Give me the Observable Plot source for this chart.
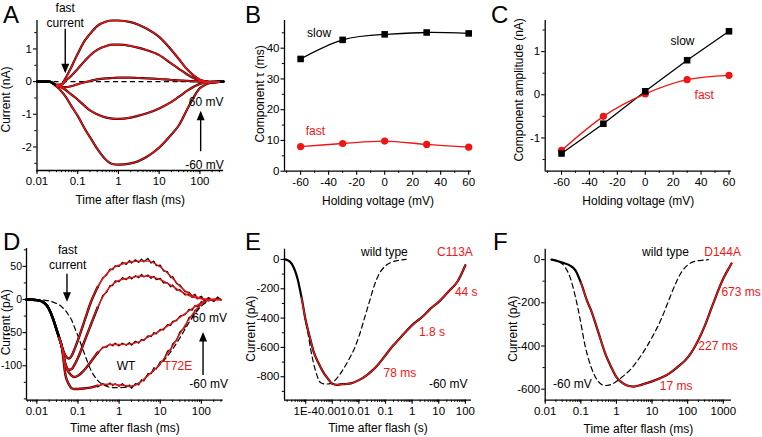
<!DOCTYPE html>
<html><head><meta charset="utf-8">
<script src="https://cdn.jsdelivr.net/npm/d3@7"></script>
<script src="https://cdn.jsdelivr.net/npm/@observablehq/plot@0.6"></script>
<style>
body{margin:0;background:#fff;font-family:"Liberation Sans",Arial,sans-serif;}
#fig{position:relative;width:762px;height:437px;overflow:hidden;background:#fff;}
.cell{position:absolute;}
.letter{position:absolute;font-size:24px;line-height:1;color:#000;z-index:5;font-family:"Liberation Sans",Arial,sans-serif;}
</style></head><body><div id="fig"></div>
<script>
const RED = "#f01414";
// ---------- Panel A ----------
const aTime = [0.01,0.02,0.03,0.04,0.05,0.07,0.1,0.15,0.2,0.3,0.5,0.7,1,2,3,5,10,20,30,50,100,150,200,300,380];
const aPos60 = [0,0,-0.1,-0.08,0.1,0.45,0.85,1.26,1.46,1.7,1.84,1.87,1.87,1.82,1.75,1.62,1.37,0.97,0.7,0.36,0.06,0.0,-0.03,-0.01,0];
const aPos30 = [0,0,-0.1,-0.1,0.02,0.18,0.39,0.64,0.8,0.97,1.09,1.13,1.13,1.09,1.04,0.96,0.81,0.55,0.4,0.21,0.03,-0.01,-0.02,0,0];
const aZero  = [0,0,-0.12,-0.16,-0.17,-0.14,-0.08,-0.02,0.02,0.07,0.1,0.11,0.12,0.12,0.11,0.1,0.08,0.05,0.04,0.02,0,0,0,0,0];
const aNeg30 = [0,0,-0.12,-0.18,-0.25,-0.4,-0.55,-0.75,-0.88,-1.0,-1.1,-1.13,-1.14,-1.1,-1.05,-0.97,-0.82,-0.62,-0.47,-0.27,-0.07,-0.02,-0.01,0,0];
const aNeg60 = [0,0,-0.15,-0.3,-0.45,-0.75,-1.05,-1.45,-1.7,-2.05,-2.4,-2.52,-2.54,-2.5,-2.44,-2.3,-2.02,-1.62,-1.35,-0.82,-0.2,-0.07,-0.03,-0.01,0];
const aXDomain = [0.01, 380], aYDomain = [-2.72, 1.87];
const aXTicks = [0.01,0.1,1,10,100], aXLabels = ["0.01","0.1","1","10","100"];
const aYTicks = [-2,-1,0,1], aYLabels = ["-2","-1","0","1"];
const aYMinor = [-2.5,-1.5,-0.5,0.5,1.5];
const aNotes = [{t:0.0494,v:2.04,text:"fast\ncurrent"},{t:142,v:-0.6,text:"60 mV"},{t:130,v:-2.52,text:"-60 mV"}];
const aArrows = [{t:0.0494,y1:1.62,y2:0.32,tip:0.254,dir:"down"},{t:104.5,y1:-2.13,y2:-0.95,tip:-0.89,dir:"up"}];

// ---------- Panel B ----------
const bVolt = [-60,-30,0,30,60];
const bSlow = [36.5,42.7,44.5,45.1,44.8];
const bFast = [8.0,9.0,9.8,8.7,7.8];
const bXDomain = [-71.5, 62], bYDomain = [0, 49];
const bXTicks = [-60,-40,-20,0,20,40,60], bXLabels = ["-60","-40","-20","0","20","40","60"];
const bXMinor = [-70,-50,-30,-10,10,30,50];
const bYTicks = [0,10,20,30,40], bYLabels = ["0","10","20","30","40"];
const bYMinor = [5,15,25,35,45];
const bNotes = [{V:-46.8,v:45.1,text:"slow",c:"black"},{V:-49.4,v:13.4,text:"fast",c:"red"}];

// ---------- Panel C ----------
const cVolt = [-60,-30,0,30,60];
const cSlow = [-1.36,-0.67,0.08,0.80,1.47];
const cFast = [-1.29,-0.50,0.02,0.35,0.45];
const cXDomain = [-71.7, 61.8], cYDomain = [-1.77, 1.72];
const cYTicks = [-1,0,1], cYLabels = ["-1","0","1"];
const cYMinor = [-1.5,-0.5,0.5,1.5];
const cNotes = [{V:26.7,v:1.25,text:"slow",c:"black"},{V:42.3,v:0,text:"fast",c:"red"}];

// ---------- Panel D ----------
const dTime  = [0.0056,0.01,0.015,0.02,0.025,0.03,0.035,0.04,0.05,0.06,0.07,0.08,0.1,0.15,0.2,0.3,0.5,0.7,1,2,3,5,10,20,30,50,100,150,200,300];
const dPos60 = [0,-1,-5,-15,-30,-45,-58,-70,-85,-89,-85,-77,-61,-29,-6,19,39,47,52,57,58,58,49,32,20,9,2,0,0,0];
const dPos30 = [0,-1,-5,-15,-30,-45,-58,-70,-98,-106,-105,-100,-88,-60,-40,-12,13,23,29,33,35,35,30,20,13,6,1,0,0,0];
const dNeg30 = [0,-1,-5,-15,-30,-45,-58,-70,-100,-110,-115,-117,-115,-105,-95,-80,-70,-68,-68,-67,-64,-57,-47,-35,-27,-17,-5,-1,0,0];
const dNeg60 = [0,-1,-5,-15,-30,-45,-58,-70,-115,-128,-134,-135,-135,-134,-133,-130,-128,-128,-129,-131,-127,-115,-97,-70,-52,-30,-7,-1,0,0];
const dWt    = [0,0,-1,-2,-4,-6,-8,-11,-17,-24,-31,-40,-55,-85,-105,-122,-131,-133,-133,-131,-126,-115,-98,-75,-58,-35,-10,-2,0,null];
// raw (noisy) recordings
const dRawTime = [0.3,0.4,0.5,0.6,0.7,0.8,1,1.2,1.5,1.8,2,2.5,3,3.5,4,5,6,7,8,10,12,15,18,20,25,30,40,50,60,70,80,100,120,150,200,250,300];
const dRaw60  = [17,33,37,46,45,51,50,56,53,59,55,60,56,61,57,62,55,58,51,52,43,42,33,35,24,22,12,11,5,8,2,5,-2,3,-3,4,-1];
const dRaw30  = [-14,6,11,21,21,28,27,33,30,35,31,36,33,38,34,37,32,35,30,32,25,25,19,22,14,15,7,8,3,6,1,3,-2,2,-2,3,0];
const dRawM30 = [-82,-72,-72,-67,-70,-66,-70,-66,-69,-65,-69,-63,-66,-60,-62,-55,-56,-50,-52,-45,-46,-38,-39,-33,-32,-25,-23,-15,-16,-9,-11,-3,-5,1,-2,2,-1];
const dRawM60 = [-132,-127,-130,-126,-130,-127,-131,-127,-132,-129,-134,-127,-129,-121,-123,-112,-112,-103,-105,-94,-92,-78,-76,-67,-62,-49,-42,-27,-26,-16,-17,-4,-6,1,-2,2,0];
const dXDomain = [0.0056, 340], dYDomain = [-152, 77];
const dYTicks = [-100,-50,0,50], dYLabels = ["-100","-50","0","50"];
const dYMinor = [-150,-125,-75,-25,25,75];
const dNotes = [{t:0.0562,v:64,text:"fast\ncurrent",c:"black"},{t:159,v:-27,text:"60 mV",c:"black"},{t:150,v:-127,text:"-60 mV",c:"black"},{t:1.48,v:-99,text:"WT",c:"black"},{t:27,v:-99,text:"T72E",c:"red"}];
const dArrows = [{t:0.054,y1:39,y2:5,tip:-3.5,dir:"down"},{t:110,y1:-114,y2:-55,tip:-49,dir:"up"}];

// ---------- Panel E ----------
const eTime = [1.6e-5,2e-5,3e-5,5e-5,7e-5,1e-4,1.5e-4,2e-4,3e-4,5e-4,7e-4,1e-3,1.5e-3,2e-3,3e-3,5e-3,0.01,0.02,0.03,0.05,0.1,0.2,0.3,0.5,1,2,3,5,10,20,30,50,100];
const eMut  = [0,-4,-30,-135,-260,-415,-545,-630,-705,-780,-815,-848,-855,-852,-850,-845,-823,-789,-762,-721,-653,-584,-550,-505,-448,-403,-375,-334,-289,-232,-198,-152,-39];
const eWtTime = [8.9e-5,1.19e-4,1.6e-4,2.4e-4,3.7e-4,5.6e-4,8.8e-4,1.39e-3,2.46e-3,4.4e-3,6.8e-3,0.0104,0.0161,0.0248,0.0383,0.059,0.091,0.162,0.288,0.594];
const eWt   = [-380,-493,-629,-766,-841,-850,-845,-816,-755,-675,-607,-516,-402,-288,-175,-95,-50,-20,-7,0];
const eXDomain = [1.6e-5, 170], eYDomain = [-960, 70];
const eXTicks = [1e-4,0.001,0.01,0.1,1,10,100], eXLabels = ["1E-4","0.001","0.01","0.1","1","10","100"];
const eYTicks = [-800,-600,-400,-200,0], eYLabels = ["-800","-600","-400","-200","0"];
const eYMinor = [-900,-700,-500,-300,-100];
const eNotes = [{t:0.091,v:58,text:"wild type",c:"black"},{t:40.6,v:58,text:"C113A",c:"red"},{t:108,v:-217,text:"44 s",c:"red"},{t:5.55,v:-490,text:"1.8 s",c:"red"},{t:0.348,v:-770,text:"78 ms",c:"red"},{t:22.8,v:-846,text:"-60 mV",c:"black"}];

// ---------- Panel F ----------
const fTime = [0.015,0.02,0.03,0.05,0.07,0.1,0.15,0.2,0.3,0.5,0.7,1,1.5,2,3,5,7,10,20,30,50,100,200,300,500,1000,1500,1700];
const fMut  = [0,-5,-14,-28,-49,-106,-191,-241,-329,-441,-495,-544,-572,-583,-588,-580,-572,-564,-544,-528,-500,-454,-372,-308,-211,-88,-34,-18];
const fWtTime = [0.015,0.0232,0.0357,0.0494,0.0683,0.0944,0.13,0.2,0.308,0.475,0.656,0.906,1.39,2.66,5.08,9.7,18.5,28.5,43.9,67.6,104,160,306,380];
const fWt   = [0,-8,-34,-80,-163,-271,-394,-503,-564,-583,-580,-569,-546,-503,-441,-364,-272,-195,-118,-57,-23,-8,-2,0];
const fXDomain = [0.01, 1700], fYDomain = [-651, 48];
const fXTicks = [0.01,0.1,1,10,100,1000], fXLabels = ["0.01","0.1","1","10","100","1000"];
const fYTicks = [-600,-400,-200,0], fYLabels = ["-600","-400","-200","0"];
const fYMinor = [-500,-300,-100];
const fNotes = [{t:23.8,v:38,text:"wild type",c:"black"},{t:956,v:38,text:"D144A",c:"red"},{t:3162,v:-148,text:"673 ms",c:"red"},{t:710,v:-398,text:"227 ms",c:"red"},{t:47.2,v:-582,text:"17 ms",c:"red"},{t:0.058,v:-574,text:"-60 mV",c:"black"}];

const letters = [{s:"A",x:3,y:3},{s:"B",x:245,y:3},{s:"C",x:491,y:3},{s:"D",x:3,y:230},{s:"E",x:245,y:230},{s:"F",x:493,y:230}];

// ---------- helpers ----------
const fig = document.getElementById("fig");
const tidy = (times, series) => series.flatMap(([s, vals]) => times.map((t, i) => ({t, v: vals[i], s})).filter(d => d.v != null));
const col = c => c === "red" ? RED : c;
const headDown = {draw(ctx){ctx.moveTo(0,0);ctx.lineTo(-4,-9.5);ctx.lineTo(4,-9.5);ctx.closePath();}};
const headUp = {draw(ctx){ctx.moveTo(0,0);ctx.lineTo(-4,9.5);ctx.lineTo(4,9.5);ctx.closePath();}};

function axes({xTicks, xLabels, xMinor, yTicks, yLabels, yMinor, xDomain, yDomain, xTitle, yTitle, xTitleDy, yTitleDx, yTitleDy, yFont = 11.5, yPad = 1.5}) {
  return [
    Plot.ruleX([xDomain[0]], {stroke: "black", strokeWidth: 1.3}),
    Plot.ruleY([yDomain[0]], {stroke: "black", strokeWidth: 1.3}),
    Plot.axisX({ticks: xMinor, tickSize: 2.2, tickFormat: () => "", label: null, strokeWidth: 1}),
    Plot.axisX({ticks: xTicks, tickSize: 4, tickPadding: 2.5, tickFormat: d => xLabels[xTicks.indexOf(d)], label: null, strokeWidth: 1.1}),
    Plot.axisY({ticks: yMinor, tickSize: 2.2, tickFormat: () => "", label: null, strokeWidth: 1}),
    Plot.axisY({ticks: yTicks, tickSize: 3.5, tickPadding: yPad, fontSize: yFont, tickFormat: d => yLabels[yTicks.indexOf(d)], label: null, strokeWidth: 1.1}),
    Plot.text([xTitle], {frameAnchor: "bottom", dy: xTitleDy, fontSize: 12, textAnchor: "middle", lineAnchor: "middle"}),
    Plot.text([yTitle], {frameAnchor: "left", dx: yTitleDx, dy: yTitleDy, rotate: -90, fontSize: 12, textAnchor: "middle", lineAnchor: "middle"})
  ];
}

function panel({left, top, w, h, ml, mr, mt, mb, x, y, marks}) {
  const svg = Plot.plot({
    width: w, height: h, marginLeft: ml, marginRight: mr, marginTop: mt, marginBottom: mb,
    x: {...x, axis: null}, y: {...y, axis: null},
    style: {background: "transparent", overflow: "visible", fontFamily: '"Liberation Sans", Arial, sans-serif', fontSize: "11.5px", color: "black"},
    marks
  });
  const div = document.createElement("div");
  div.className = "cell"; div.style.left = left + "px"; div.style.top = top + "px";
  div.appendChild(svg); fig.appendChild(div);
}

function arrowMarks(arr) {
  return [
    Plot.link(arr, {x1: "t", x2: "t", y1: "y1", y2: "y2", stroke: "black", strokeWidth: 1.4}),
    Plot.dot(arr.filter(d => d.dir === "down"), {x: "t", y: "tip", symbol: headDown, r: 5, fill: "black", stroke: "none"}),
    Plot.dot(arr.filter(d => d.dir === "up"), {x: "t", y: "tip", symbol: headUp, r: 5, fill: "black", stroke: "none"})
  ];
}

function notes(arr) {
  return Plot.text(arr, {x: d => d.t ?? d.V, y: "v", text: "text", fill: d => col(d.c ?? "black"), fontSize: 12, lineAnchor: "middle", lineHeight: 1.22});
}

// ---------- A ----------
const aData = tidy(aTime, [["60", aPos60], ["30", aPos30], ["0", aZero], ["-30", aNeg30], ["-60", aNeg60]]);
panel({left: 0, top: 0, w: 254, h: 218, ml: 36.5, mr: 31, mt: 20, mb: 48,
  x: {type: "log", domain: aXDomain}, y: {domain: aYDomain},
  marks: [
    Plot.ruleY([0], {stroke: "black", strokeDasharray: "5,3.5", strokeWidth: 1.2}),
    Plot.line(aData, {x: "t", y: "v", z: "s", stroke: "black", strokeWidth: 2.2, curve: "monotone-x"}),
    Plot.line(aData.filter(d => d.t >= 0.03 && d.t <= 300), {x: "t", y: "v", z: "s", stroke: RED, strokeWidth: 1.4, curve: "monotone-x"}),
    ...axes({xTicks: aXTicks, xLabels: aXLabels, xMinor: 30, yTicks: aYTicks, yLabels: aYLabels, yMinor: aYMinor, xDomain: aXDomain, yDomain: aYDomain,
      xTitle: "Time after flash (ms)", yTitle: "Current (nA)", xTitleDy: 30, yTitleDx: -30.5, yTitleDy: 4}),
    ...arrowMarks(aArrows),
    notes(aNotes.map(d => ({...d, c: "black"})))
  ]});

// ---------- B ----------
const bSlowD = bVolt.map((V, i) => ({V, v: bSlow[i]}));
const bFastD = bVolt.map((V, i) => ({V, v: bFast[i]}));
panel({left: 254, top: 0, w: 254, h: 218, ml: 30, mr: 37, mt: 20, mb: 47.3,
  x: {domain: bXDomain}, y: {domain: bYDomain},
  marks: [
    Plot.line(bSlowD, {x: "V", y: "v", stroke: "black", strokeWidth: 1.3, curve: "natural"}),
    Plot.line(bFastD, {x: "V", y: "v", stroke: RED, strokeWidth: 1.3, curve: "catmull-rom"}),
    Plot.dot(bSlowD, {x: "V", y: "v", symbol: "square", r: 3.7, fill: "black", stroke: "none"}),
    Plot.dot(bFastD, {x: "V", y: "v", symbol: "circle", r: 3.6, fill: RED, stroke: "none"}),
    ...axes({xTicks: bXTicks, xLabels: bXLabels, xMinor: bXMinor, yTicks: bYTicks, yLabels: bYLabels, yMinor: bYMinor, xDomain: bXDomain, yDomain: bYDomain,
      xTitle: "Holding voltage (mV)", yTitle: "Component τ (ms)", xTitleDy: 30, yTitleDx: -24, yTitleDy: -2}),
    notes(bNotes)
  ]});

// ---------- C ----------
const cSlowD = cVolt.map((V, i) => ({V, v: cSlow[i]}));
const cFastD = cVolt.map((V, i) => ({V, v: cFast[i]}));
panel({left: 508, top: 0, w: 254, h: 218, ml: 36.7, mr: 31, mt: 20, mb: 47.3,
  x: {domain: cXDomain}, y: {domain: cYDomain},
  marks: [
    Plot.line(cSlowD, {x: "V", y: "v", stroke: "black", strokeWidth: 1.3}),
    Plot.line(cFastD, {x: "V", y: "v", stroke: RED, strokeWidth: 1.3, curve: "natural"}),
    Plot.dot(cFastD, {x: "V", y: "v", symbol: "circle", r: 3.6, fill: RED, stroke: "none"}),
    Plot.dot(cSlowD, {x: "V", y: "v", symbol: "square", r: 3.7, fill: "black", stroke: "none"}),
    ...axes({xTicks: bXTicks, xLabels: bXLabels, xMinor: bXMinor, yTicks: cYTicks, yLabels: cYLabels, yMinor: cYMinor, xDomain: cXDomain, yDomain: cYDomain,
      xTitle: "Holding voltage (mV)", yTitle: "Component amplitude (nA)", xTitleDy: 30, yTitleDx: -26, yTitleDy: -6}),
    notes(cNotes)
  ]});

// ---------- D ----------
const dData = tidy(dTime, [["60", dPos60], ["30", dPos30], ["-30", dNeg30], ["-60", dNeg60]]);
const dRaw = tidy(dRawTime, [["60", dRaw60], ["30", dRaw30], ["-30", dRawM30], ["-60", dRawM60]]);
const dWtD = tidy(dTime, [["wt", dWt]]);
panel({left: 0, top: 218, w: 254, h: 219, ml: 26, mr: 31.3, mt: 30, mb: 37.3,
  x: {type: "log", domain: dXDomain}, y: {domain: dYDomain},
  marks: [
    Plot.line(dWtD, {x: "t", y: "v", stroke: "black", strokeWidth: 1.2, strokeDasharray: "5,3.5", curve: "monotone-x"}),
    Plot.line(dData.filter(d => d.t <= 0.3), {x: "t", y: "v", z: "s", stroke: "black", strokeWidth: 2.4, curve: "monotone-x"}),
    Plot.line(dRaw, {x: "t", y: "v", z: "s", stroke: "black", strokeWidth: 1.2}),
    Plot.line(dData.filter(d => d.t >= 0.035), {x: "t", y: "v", z: "s", stroke: RED, strokeWidth: 1.4, curve: "monotone-x"}),
    ...axes({xTicks: aXTicks, xLabels: aXLabels, xMinor: 30, yTicks: dYTicks, yLabels: dYLabels, yMinor: dYMinor, xDomain: dXDomain, yDomain: dYDomain,
      xTitle: "Time after flash (ms)", yTitle: "Current (pA)", xTitleDy: 28.3, yTitleDx: -20, yTitleDy: -2, yFont: 10.5, yPad: 1}),
    ...arrowMarks(dArrows),
    notes(dNotes)
  ]});

// ---------- E ----------
const eData = tidy(eTime, [["mut", eMut]]);
const eWtD = tidy(eWtTime, [["wt", eWt]]);
panel({left: 254, top: 218, w: 254, h: 219, ml: 30, mr: 37, mt: 30.7, mb: 37.3,
  x: {type: "log", domain: eXDomain}, y: {domain: eYDomain},
  marks: [
    Plot.line(eWtD, {x: "t", y: "v", stroke: "black", strokeWidth: 1.2, strokeDasharray: "5,3.5", curve: "monotone-x"}),
    Plot.line(eData, {x: "t", y: "v", stroke: "black", strokeWidth: 2.2, curve: "monotone-x"}),
    Plot.line(eData.filter(d => d.t >= 7e-5), {x: "t", y: "v", stroke: RED, strokeWidth: 1.4, curve: "monotone-x"}),
    ...axes({xTicks: eXTicks, xLabels: eXLabels, xMinor: 40, yTicks: eYTicks, yLabels: eYLabels, yMinor: eYMinor, xDomain: eXDomain, yDomain: eYDomain,
      xTitle: "Time after flash (s)", yTitle: "Current (pA)", xTitleDy: 28.3, yTitleDx: -33, yTitleDy: 4}),
    notes(eNotes)
  ]});

// ---------- F ----------
const fData = tidy(fTime, [["mut", fMut]]);
const fWtD = tidy(fWtTime, [["wt", fWt]]);
panel({left: 508, top: 218, w: 254, h: 219, ml: 36.7, mr: 31, mt: 30.7, mb: 37.3,
  x: {type: "log", domain: fXDomain}, y: {domain: fYDomain},
  marks: [
    Plot.line(fWtD, {x: "t", y: "v", stroke: "black", strokeWidth: 1.2, strokeDasharray: "5,3.5", curve: "monotone-x"}),
    Plot.line(fData, {x: "t", y: "v", stroke: "black", strokeWidth: 2.2, curve: "monotone-x"}),
    Plot.line(fData.filter(d => d.t >= 0.1), {x: "t", y: "v", stroke: RED, strokeWidth: 1.4, curve: "monotone-x"}),
    ...axes({xTicks: fXTicks, xLabels: fXLabels, xMinor: 40, yTicks: fYTicks, yLabels: fYLabels, yMinor: fYMinor, xDomain: fXDomain, yDomain: fYDomain,
      xTitle: "Time after flash (ms)", yTitle: "Current (pA)", xTitleDy: 29, yTitleDx: -32, yTitleDy: 4}),
    notes(fNotes)
  ]});

// ---------- panel letters ----------
for (const L of letters) {
  const el = document.createElement("div");
  el.className = "letter"; el.textContent = L.s;
  el.style.left = L.x + "px"; el.style.top = L.y + "px";
  fig.appendChild(el);
}
</script></body></html>
